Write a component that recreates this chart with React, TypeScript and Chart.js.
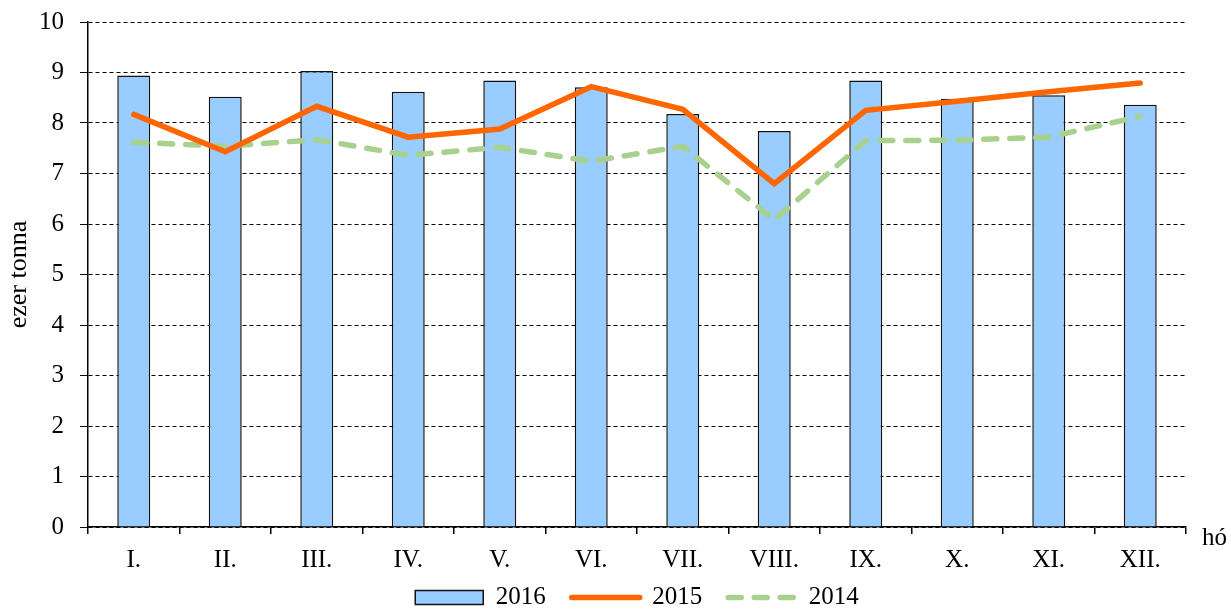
import React, { useEffect, useRef } from 'react';
import { Chart, registerables } from 'chart.js';

Chart.register(...registerables);

const months = ['I.', 'II.', 'III.', 'IV.', 'V.', 'VI.', 'VII.', 'VIII.', 'IX.', 'X.', 'XI.', 'XII.'];
const values2016 = [8.94, 8.52, 9.03, 8.62, 8.84, 8.71, 8.18, 7.84, 8.84, 8.48, 8.55, 8.36];
const values2015 = [8.17, 7.43, 8.33, 7.72, 7.88, 8.72, 8.27, 6.8, 8.25, 8.43, 8.62, 8.79];
const values2014 = [7.62, 7.54, 7.67, 7.36, 7.52, 7.24, 7.54, 6.08, 7.65, 7.66, 7.72, 8.13];
const seriesNames = ['2016', '2015', '2014'];
const yTitle = 'ezer tonna';
const xUnit = 'hó';

const FONT = "'Liberation Serif', 'Times New Roman', serif";

const huPlugin = {
  id: 'xUnitLabel',
  afterDraw(chart: any) {
    const { ctx, chartArea } = chart;
    ctx.save();
    ctx.font = `25px ${FONT}`;
    ctx.fillStyle = '#000';
    ctx.textAlign = 'left';
    ctx.textBaseline = 'alphabetic';
    ctx.fillText(xUnit, chartArea.right + 16, chartArea.bottom + 18);
    ctx.restore();
  },
};

const layoutTweak = {
  id: 'layoutTweak',
  afterLayout(chart: any) {
    const l = chart.legend;
    if (l) {
      l.top += 10;
      l.bottom += 10;
    }
    const x = chart.scales.x;
    if (x) x.bottom = chart.height;
  },
};

export default function App() {
  const ref = useRef<HTMLCanvasElement | null>(null);
  useEffect(() => {
    if (!ref.current) return;
    const chart = new Chart(ref.current, {
      type: 'bar',
      data: {
        labels: months,
        datasets: [
          {
            type: 'bar',
            label: seriesNames[0],
            data: values2016,
            backgroundColor: '#99CCFF',
            borderColor: '#111',
            borderWidth: 1.5,
            barPercentage: 0.36,
            categoryPercentage: 1,
            order: 3,
          },
          {
            type: 'line',
            label: seriesNames[1],
            data: values2015,
            borderColor: '#FF6600',
            backgroundColor: '#FF6600',
            borderWidth: 5.5,
            pointRadius: 0,
            tension: 0,
            borderCapStyle: 'round',
            borderJoinStyle: 'miter',
            order: 1,
          },
          {
            type: 'line',
            label: seriesNames[2],
            data: values2014,
            borderColor: '#A9D18E',
            backgroundColor: '#A9D18E',
            borderWidth: 5.5,
            borderDash: [13, 13],
            borderCapStyle: 'round',
            pointRadius: 0,
            tension: 0,
            order: 2,
          },
        ] as any,
      },
      options: {
        animation: false,
        responsive: false,
        devicePixelRatio: 1,
        layout: { padding: { top: 22, right: 45, left: 0, bottom: 0 } },
        font: { family: FONT },
        scales: {
          x: {
            grid: {
              display: true,
              drawOnChartArea: false,
              drawTicks: true,
              tickLength: 7,
              color: '#000',
              lineWidth: 1.5,
              offset: true,
            },
            border: { display: true, color: '#000', width: 1.5 },
            ticks: { color: '#000', font: { family: FONT, size: 25 }, padding: 11, maxRotation: 0, autoSkip: false },
            afterFit: (s: any) => {
              s.height = 22;
            },
          },
          y: {
            min: 0,
            max: 10,
            ticks: { stepSize: 1, color: '#000', font: { family: FONT, size: 25, lineHeight: 0.48 }, padding: 16 },
            grid: {
              color: '#000',
              lineWidth: 1,
              drawTicks: true,
              tickLength: 8,
              tickBorderDash: [],
            },
            border: { display: true, color: '#000', width: 1.5, dash: [4, 3] },
            title: {
              display: true,
              text: yTitle,
              color: '#000',
              font: { family: FONT, size: 26 },
              padding: { top: 4, bottom: 0 },
            },
            afterFit: (s: any) => {
              s.width = 88;
            },
          },
        },
        plugins: {
          tooltip: { enabled: false },
          legend: {
            display: true,
            position: 'bottom',
            fullSize: false,
            labels: {
              color: '#000',
              font: { family: FONT, size: 25 },
              usePointStyle: true,
              pointStyleWidth: 68,
              boxHeight: 14,
              padding: 26,
              generateLabels: (c: any) => {
                const base = Chart.defaults.plugins.legend.labels.generateLabels(c);
                return base
                  .map((item: any) => {
                    const i = item.datasetIndex;
                    if (i === 0) {
                      return { ...item, pointStyle: 'rect', fillStyle: '#99CCFF', strokeStyle: '#111', lineWidth: 1.5 };
                    }
                    const ds = c.data.datasets[i];
                    return {
                      ...item,
                      pointStyle: 'line',
                      strokeStyle: ds.borderColor,
                      fillStyle: ds.borderColor,
                      lineWidth: 5.5,
                      lineCap: 'round',
                      lineDash: i === 2 ? [13, 13] : [],
                    };
                  })
                  .sort((a: any, b: any) => a.datasetIndex - b.datasetIndex);
              },
            },
          },
        },
      },
      plugins: [huPlugin, layoutTweak],
    });
    return () => chart.destroy();
  }, []);
  return (
    <div style={{ position: 'absolute', left: 0, top: 0, width: 1231, height: 610, background: '#fff' }}>
      <canvas ref={ref} width={1231} height={610} style={{ display: 'block' }} />
    </div>
  );
}
